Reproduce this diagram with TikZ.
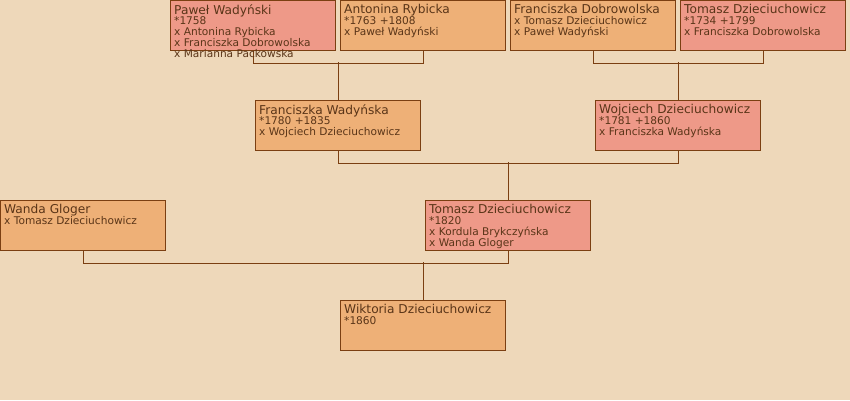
\documentclass[tikz,border=0pt]{standalone}
\usepackage{fontspec}
\setmainfont{DejaVu Sans}
\definecolor{bgc}{HTML}{EED8BA}
\definecolor{orc}{HTML}{EEB077}
\definecolor{pkc}{HTML}{EE9988}
\definecolor{brd}{HTML}{7B3F12}
\definecolor{txc}{HTML}{5A3518}
\tikzset{
  person/.style={draw=brd, line width=1pt, minimum width=165pt, minimum height=50pt, inner sep=0pt, anchor=north west},
  orbox/.style={person, fill=orc},
  pkbox/.style={person, fill=pkc},
  txt/.style={anchor=north west, inner sep=0pt, align=left, text=txc, font=\fontsize{10.6}{10.9}\selectfont},
  conn/.style={draw=brd, line width=1pt}
}
\newcommand{\nmline}[1]{{\fontsize{12.2}{10.9}\selectfont #1}}
\begin{document}
\begin{tikzpicture}[x=1pt,y=-1pt]
\fill[bgc] (0,0) rectangle (850,400);
\useasboundingbox (0,0) rectangle (850,400);
\node[pkbox] (pw) at (170,0) {};
\node[orbox] (ar) at (340,0) {};
\node[orbox] (fd) at (510,0) {};
\node[pkbox] (td) at (680,0) {};
\node[orbox] (fw) at (255,100) {};
\node[pkbox] (wd) at (595,100) {};
\node[orbox] (wg) at (0,200) {};
\node[pkbox] (tz) at (425,200) {};
\node[orbox] (wk) at (340,300) {};
\draw[conn] (pw.south) -- ++(0,12) -| (ar.south);
\draw[conn] (fw.north) -- ++(0,-38);
\draw[conn] (fd.south) -- ++(0,12) -| (td.south);
\draw[conn] (wd.north) -- ++(0,-38);
\draw[conn] (fw.south) -- ++(0,12) -| (wd.south);
\draw[conn] (tz.north) -- ++(0,-38);
\draw[conn] (wg.south) -- ++(0,12) -| (tz.south);
\draw[conn] (wk.north) -- ++(0,-38);
\node[txt] (pwt) at ([xshift=4pt,yshift=-4pt]pw.north west) {\nmline{Paweł Wadyński}\\*1758\\x Antonina Rybicka\\x Franciszka Dobrowolska\\x Marianna Packowska};
\node[txt] (art) at ([xshift=4pt,yshift=-4pt]ar.north west) {\nmline{Antonina Rybicka}\\*1763 +1808\\x Paweł Wadyński};
\node[txt] (fdt) at ([xshift=4pt,yshift=-4pt]fd.north west) {\nmline{Franciszka Dobrowolska}\\x Tomasz Dzieciuchowicz\\x Paweł Wadyński};
\node[txt] (tdt) at ([xshift=4pt,yshift=-4pt]td.north west) {\nmline{Tomasz Dzieciuchowicz}\\*1734 +1799\\x Franciszka Dobrowolska};
\node[txt] (fwt) at ([xshift=4pt,yshift=-4pt]fw.north west) {\nmline{Franciszka Wadyńska}\\*1780 +1835\\x Wojciech Dzieciuchowicz};
\node[txt] (wdt) at ([xshift=4pt,yshift=-4pt]wd.north west) {\nmline{Wojciech Dzieciuchowicz}\\*1781 +1860\\x Franciszka Wadyńska};
\node[txt] (wgt) at ([xshift=4pt,yshift=-4pt]wg.north west) {\nmline{Wanda Gloger}\\x Tomasz Dzieciuchowicz};
\node[txt] (tzt) at ([xshift=4pt,yshift=-4pt]tz.north west) {\nmline{Tomasz Dzieciuchowicz}\\*1820\\x Kordula Brykczyńska\\x Wanda Gloger};
\node[txt] (wkt) at ([xshift=4pt,yshift=-4pt]wk.north west) {\nmline{Wiktoria Dzieciuchowicz}\\*1860};
\end{tikzpicture}
\end{document}
